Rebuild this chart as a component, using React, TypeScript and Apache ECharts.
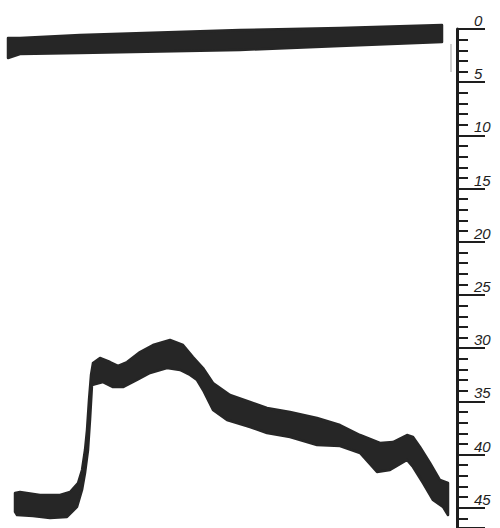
import React, { useEffect, useRef } from "react";
import * as echarts from "echarts";

// Upper trace (reference line) — edges of the inked band (time, scale units)
const refUpperTime = [8, 20, 80, 160, 240, 340, 442];
const refUpperValue = [0.85, 0.85, 0.56, 0.33, 0.09, -0.09, -0.38];
const refLowerTime = [8, 20, 80, 160, 240, 340, 442];
const refLowerValue = [2.72, 2.35, 2.25, 2.11, 1.97, 1.6, 1.22];

// Lower trace (recording) — upper edge of the inked band
const recUpperTime = [
  15, 20, 40, 60, 70, 78, 82, 85, 87, 89, 91, 93, 100, 110, 118, 127, 140, 153,
  170, 183, 193, 203, 213, 230, 250, 267, 290, 317, 340, 360, 380, 393, 407, 413,
  420, 430, 440, 448,
];
const recUpperValue = [
  43.61, 43.52, 43.8, 43.8, 43.52, 42.67, 41.45, 39.57, 37.69, 34.87, 32.52,
  31.39, 30.92, 31.3, 31.67, 31.3, 30.36, 29.7, 29.23, 29.7, 30.83, 31.86, 33.27,
  34.4, 35.06, 35.62, 35.99, 36.56, 37.22, 38.16, 38.91, 38.82, 38.16, 38.35,
  39.29, 40.79, 42.39, 42.67,
];
// Lower trace (recording) — lower edge of the inked band
const recLowerTime = [
  15, 17, 33, 50, 67, 77, 82, 85, 88, 90, 92, 103, 113, 123, 137, 150, 167, 180,
  190, 197, 203, 213, 227, 250, 267, 290, 317, 340, 360, 377, 390, 407, 413, 423,
  433, 443, 448,
];
const recLowerValue = [
  45.39, 45.68, 45.77, 45.96, 45.86, 44.92, 43.33, 41.73, 39.57, 36.75, 33.46,
  33.18, 33.65, 33.65, 32.99, 32.33, 31.86, 32.05, 32.52, 32.99, 33.93, 35.81,
  36.75, 37.41, 37.97, 38.35, 39.1, 39.19, 39.85, 41.64, 41.45, 40.51, 41.17,
  42.67, 44.27, 44.92, 45.68,
];

// Scale
const scaleMin = 0;
const scaleMax = 46.9;
const scaleInterval = 5;

const INK = "#262626";

function bandSeries(
  name: string,
  upT: number[],
  upV: number[],
  loT: number[],
  loV: number[]
) {
  const outline: number[][] = upT.map((t, i) => [t, upV[i]]);
  for (let i = loT.length - 1; i >= 0; i--) outline.push([loT[i], loV[i]]);
  return {
    type: "custom",
    name,
    silent: true,
    clip: false,
    encode: { x: 0, y: 1 },
    data: outline,
    renderItem: (params: any, api: any) => {
      if (params.dataIndexInside !== 0) return null;
      const n = params.dataInsideLength;
      const points: number[][] = [];
      for (let i = 0; i < n; i++) {
        points.push(api.coord([api.value(0, i), api.value(1, i)]));
      }
      return {
        type: "polygon",
        shape: { points },
        style: { fill: INK, stroke: INK, lineWidth: 2.5, lineJoin: "round" },
      };
    },
  };
}

export default function App() {
  const ref = useRef<HTMLDivElement>(null);
  useEffect(() => {
    if (!ref.current) return;
    const chart = echarts.init(ref.current, null, { renderer: "svg" });
    chart.setOption({
      animation: false,
      backgroundColor: "#ffffff",
      grid: { left: 0, right: 43, top: 29, bottom: 0 },
      xAxis: {
        type: "value",
        min: 0,
        max: 457,
        show: false,
      },
      yAxis: {
        type: "value",
        position: "right",
        inverse: true,
        min: scaleMin,
        max: scaleMax,
        interval: scaleInterval,
        splitLine: { show: false },
        axisLine: {
          show: true,
          onZero: false,
          lineStyle: { color: "#1e1e1e", width: 3 },
        },
        axisTick: {
          show: true,
          length: 28,
          lineStyle: { color: "#1e1e1e", width: 2 },
        },
        minorTick: {
          show: true,
          splitNumber: 5,
          length: 11,
          lineStyle: { color: "#1e1e1e", width: 2 },
        },
        axisLabel: {
          margin: 17,
          align: "left",
          verticalAlign: "bottom",
          showMaxLabel: false,
          fontFamily: "Liberation Sans",
          fontStyle: "italic",
          fontSize: 15,
          color: "#1e1e1e",
          padding: [0, 0, 1, 0],
        },
      },
      graphic: [
        {
          type: "line",
          shape: { x1: 451, y1: 44, x2: 451, y2: 72 },
          style: { stroke: "#b5b5b5", lineWidth: 1.2 },
        },
      ],
      series: [
        bandSeries("reference", refUpperTime, refUpperValue, refLowerTime, refLowerValue),
        bandSeries("recording", recUpperTime, recUpperValue, recLowerTime, recLowerValue),
      ],
    });
    return () => chart.dispose();
  }, []);
  return (
    <div
      ref={ref}
      style={{ position: "fixed", left: 0, top: 0, width: 500, height: 528 }}
    />
  );
}
